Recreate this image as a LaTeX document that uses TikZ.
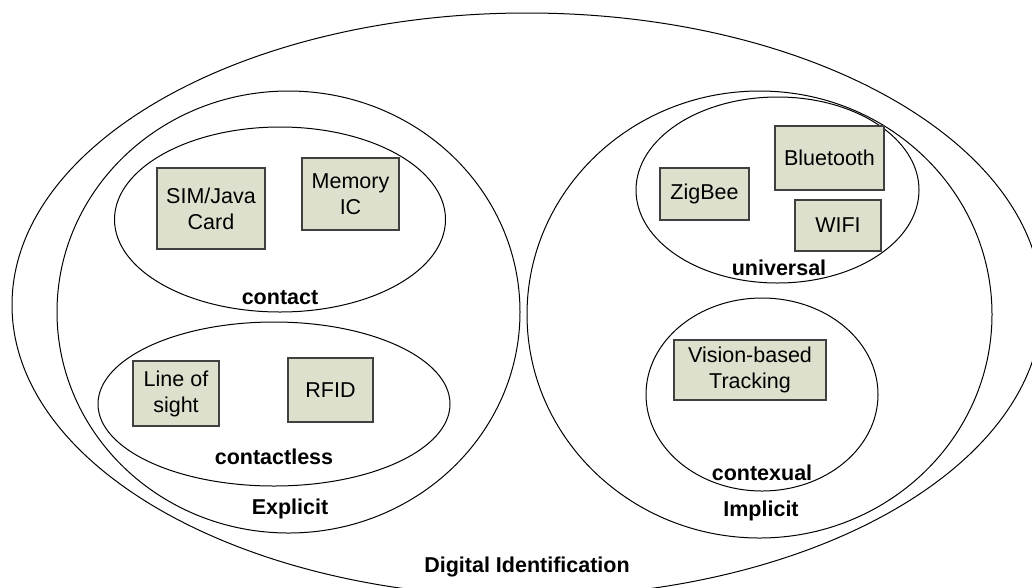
\documentclass[tikz,border=0pt]{standalone}
\usepackage{fontspec}
\setmainfont{Liberation Sans}
\usetikzlibrary{shapes.geometric}
\definecolor{boxfill}{HTML}{DDE0CD}
\definecolor{boxline}{HTML}{404040}
\tikzset{
  setoval/.style={draw=black, line width=1pt, ellipse, inner sep=0pt},
  itembox/.style={draw=boxline, fill=boxfill, line width=1.3pt, inner sep=0pt, align=center,
    font=\fontsize{21.5}{26}\selectfont},
  setlabel/.style={inner sep=0pt, font=\fontsize{21.5}{26}\selectfont\bfseries}
}
\begin{document}
\begin{tikzpicture}[x=1pt,y=-1pt]
\useasboundingbox (0,0) rectangle (1032,587);
\fill[white] (0,0) rectangle (1032,587);
% sets
\node[setoval, minimum width=1030pt, minimum height=584pt] (digital) at (527,305) {};
\node[setoval, minimum width=463pt, minimum height=442pt] (explicit) at (288.5,312) {};
\node[setoval, minimum width=331pt, minimum height=185pt] (contact) at (280,219.5) {};
\node[setoval, minimum width=352pt, minimum height=164pt] (contactless) at (274,404) {};
\node[setoval, minimum width=465pt, minimum height=447pt] (implicit) at (759.5,314.5) {};
\node[setoval, minimum width=283pt, minimum height=186pt] (universal) at (777.5,190) {};
\node[setoval, minimum width=232pt, minimum height=193pt] (contexual) at (762,394.5) {};
% items
\node[itembox, minimum width=108pt, minimum height=81pt] (sim) at (211,208.5) {SIM/Java\\Card};
\node[itembox, minimum width=97pt, minimum height=72pt] (memory) at (350.5,194) {Memory\\IC};
\node[itembox, minimum width=86pt, minimum height=65pt] (los) at (176,393.5) {Line of\\sight};
\node[itembox, minimum width=85pt, minimum height=64pt] (rfid) at (330.5,390) {RFID};
\node[itembox, minimum width=89pt, minimum height=52pt] (zigbee) at (704.5,194) {ZigBee};
\node[itembox, minimum width=109pt, minimum height=64pt] (bluetooth) at (829.5,158) {Bluetooth};
\node[itembox, minimum width=86pt, minimum height=51pt] (wifi) at (838,225.5) {WIFI};
\node[itembox, minimum width=152pt, minimum height=60pt] (vision) at (750,370) {Vision-based\\Tracking};
% labels
\node[setlabel] (lcontact) at (280,298) {contact};
\node[setlabel] (lcontactless) at (274,457) {contactless};
\node[setlabel] (lexplicit) at (290,509) {Explicit};
\node[setlabel] (luniversal) at (779,268) {universal};
\node[setlabel] (lcontexual) at (762,473) {contexual};
\node[setlabel] (limplicit) at (761,511) {Implicit};
\node[setlabel] (ldigital) at (527,567) {Digital Identification};
\end{tikzpicture}
\end{document}
